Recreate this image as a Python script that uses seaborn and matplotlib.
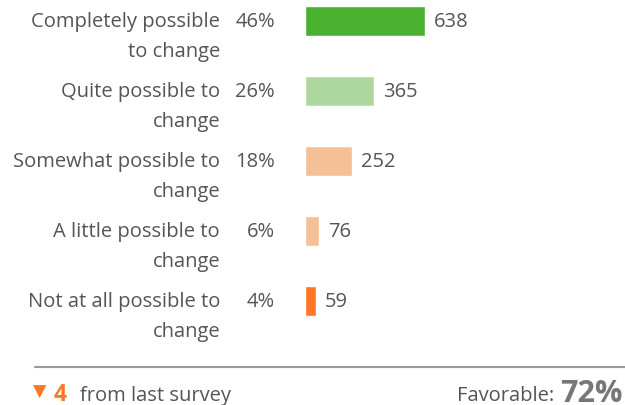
import matplotlib.pyplot as plt
import matplotlib.transforms as mtransforms
import seaborn as sns
import pandas as pd

# data
categories = ['Completely possible\nto change', 'Quite possible to\nchange',
              'Somewhat possible to\nchange', 'A little possible to\nchange',
              'Not at all possible to\nchange']
counts = [638, 365, 252, 76, 59]
percents = ['46%', '26%', '18%', '6%', '4%']
colors = ['#4AB02F', '#AED8A0', '#F5C096', '#F5C096', '#FF7722']
change = '4'
favorable = '72%'

sns.set_style('white')
plt.rcParams['font.family'] = ['Open Sans', 'DejaVu Sans']

df = pd.DataFrame({'cat': categories, 'count': counts})

W, H = 625, 406
fig = plt.figure(figsize=(W / 100, H / 100), dpi=100)
# bar area: left edge at 305px, 120px == 638
ax = fig.add_axes([305 / W, (H - 340) / H, 320 / W, 340 / H])
sns.barplot(data=df, x='count', y='cat', hue='cat', palette=colors,
            legend=False, width=30 / 70, ax=ax, saturation=1)
ax.set_xlim(0, 320 / (120 / 638))
ax.set_ylim(4.5 + 3 / 70, -0.5 + 13 / 70)
ax.axis('off')

txt = '#555555'
fs = 14.5
blend = mtransforms.blended_transform_factory(fig.transFigure, ax.transData)
for i, (c, p, n) in enumerate(zip(categories, percents, counts)):
    for k, line in enumerate(c.split('\n')):
        ax.text(220 / W, i + k * 30 / 70, line, transform=blend, ha='right',
                va='center', fontsize=fs, color=txt)
    ax.text(275 / W, i, p, transform=blend, ha='right', va='center',
            fontsize=fs, color=txt)
    ax.annotate(str(n), (n, i), xytext=(9, 0), textcoords='offset pixels',
                ha='left', va='center', fontsize=fs, color=txt)

# footer
fig.add_artist(plt.Line2D([35 / W, 1], [1 - 368 / H] * 2, color='#999999', lw=1.5))
base = 1 - 401 / H
fig.text(33 / W, 1 - 392 / H, '\u25BC', color='#FF7722', fontsize=12.5, ha='left',
         va='center', family=['DejaVu Sans'])
fig.text(54 / W, base, change, color='#FF7722', fontsize=16.5, fontweight='bold',
         ha='left', va='baseline')
fig.text(80 / W, base, 'from last survey', color=txt, fontsize=fs, ha='left', va='baseline')
fig.text(554 / W, base, 'Favorable:', color=txt, fontsize=fs, ha='right', va='baseline')
fig.text(623 / W, 1 - 402 / H, favorable, color='#777777', fontsize=22, fontweight='bold',
         ha='right', va='baseline')

fig.savefig('out.png', dpi=100)
